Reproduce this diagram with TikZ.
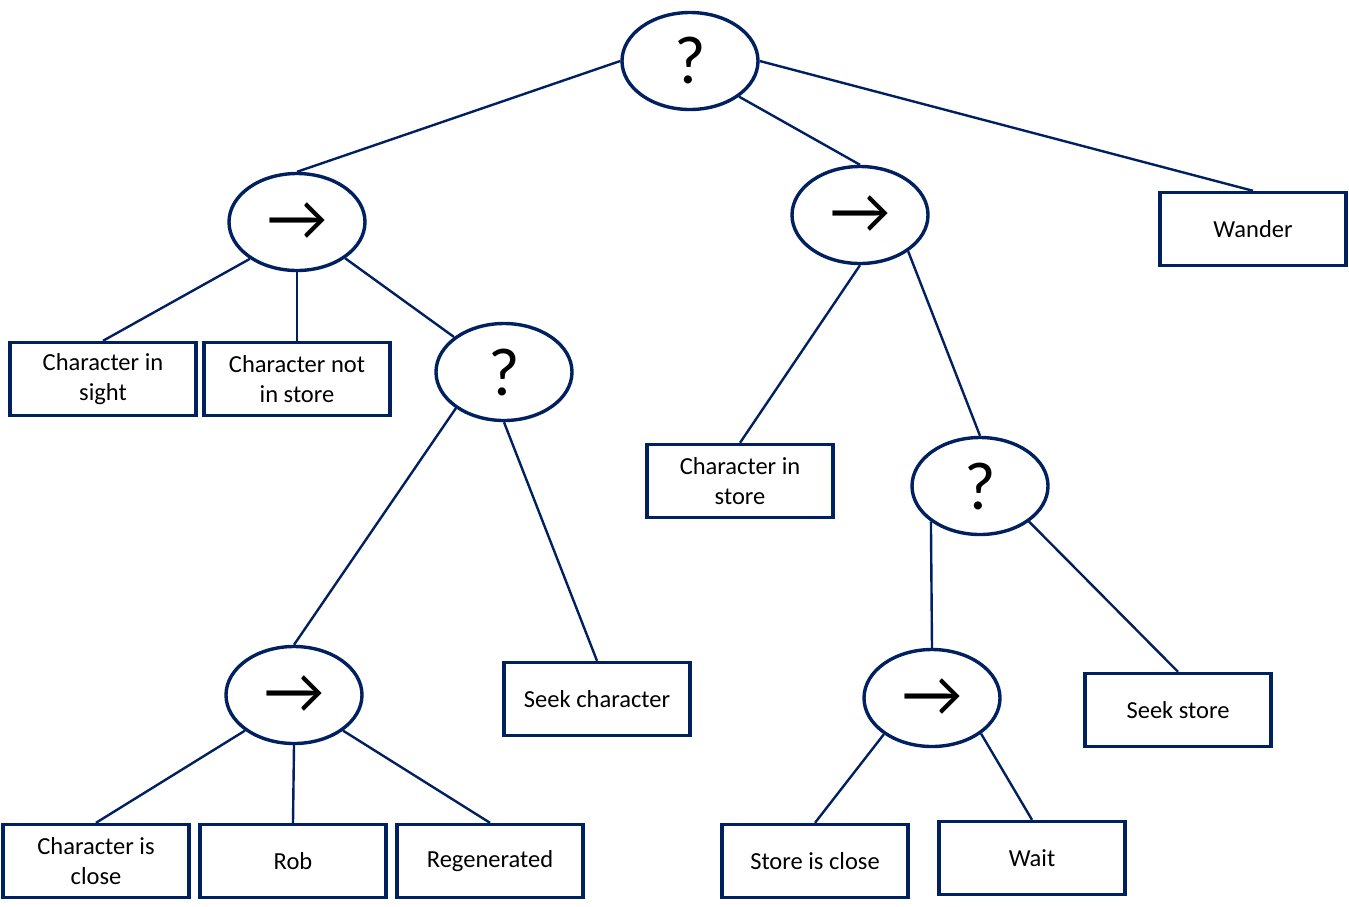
\documentclass[tikz,border=0pt]{standalone}
\usepackage{fontspec}
\setmainfont{Carlito}
\usetikzlibrary{shapes.geometric}
\definecolor{navy}{RGB}{0,32,96}
\tikzset{
  ctrl/.style={ellipse, draw=navy, line width=3.4pt, fill=white,
    minimum width=136pt, minimum height=97pt, inner sep=0pt},
  sel/.style={ctrl, font=\fontsize{68}{68}\selectfont},
  seqn/.style={ctrl, font=\fontsize{66}{66}\selectfont},
  leaf/.style={rectangle, draw=navy, line width=3.4pt, fill=white,
    minimum width=186pt, minimum height=73pt, inner sep=0pt, align=center,
    font=\fontsize{24.5}{30}\selectfont},
  link/.style={draw=navy, line width=2.4pt}
}
\begin{document}
\begin{tikzpicture}[x=1pt,y=-1pt]
\useasboundingbox (0,0) rectangle (1349,906);

% composite nodes
\node[sel]  (root) at (690,61)  {?};
\node[seqn] (s1)   at (297,222) {→};
\node[sel]  (q1)   at (504,372) {?};
\node[seqn] (s2)   at (860,215) {→};
\node[sel]  (q2)   at (980,486) {?};
\node[seqn] (s3)   at (294,695) {→};
\node[seqn] (s4)   at (932,698) {→};

% leaves
\node[leaf] (wander) at (1253,229) {Wander};
\node[leaf] (sight)  at (103,379)  {Character in\\sight};
\node[leaf] (notin)  at (297,379)  {Character not\\in store};
\node[leaf] (instore) at (740,481) {Character in\\store};
\node[leaf] (seekc)  at (597,699)  {Seek character};
\node[leaf] (seeks)  at (1178,710) {Seek store};
\node[leaf] (close)  at (96,861)   {Character is\\close};
\node[leaf] (rob)    at (293,861)  {Rob};
\node[leaf] (regen)  at (490,861)  {Regenerated};
\node[leaf] (sclose) at (815,861)  {Store is close};
\node[leaf] (wait)   at (1032,858) {Wait};

% connectors
\path[link] (root.west) -- (s1.north);
\path[link] (root.-36) -- (s2.north);
\path[link] (root.east) -- (wander.north);
\path[link] (s1.218) -- (sight.north);
\path[link] (s1.south) -- (notin.north);
\path[link] (s1.-37) -- (q1.145);
\path[link] (q1.217) -- (s3.north);
\path[link] (q1.south) -- (seekc.north);
\path[link] (s2.south) -- (instore.north);
\path[link] (s2.-37) -- (q2.north);
\path[link] (q2.216) -- (s4.north);
\path[link] (q2.-36) -- (seeks.north);
\path[link] (s3.216) -- (close.north);
\path[link] (s3.south) -- (rob.north);
\path[link] (s3.-36) -- (regen.north);
\path[link] (s4.217) -- (sclose.north);
\path[link] (s4.-36) -- (wait.north);
\end{tikzpicture}
\end{document}
